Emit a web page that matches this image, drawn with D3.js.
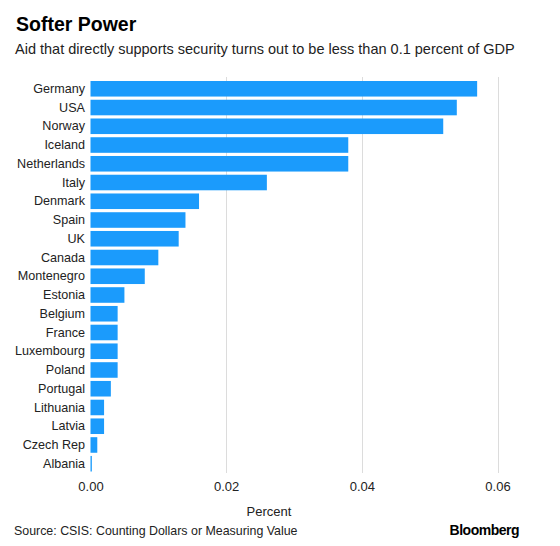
<!DOCTYPE html>
<html><head><meta charset="utf-8">
<script src="https://cdn.jsdelivr.net/npm/d3@7"></script>
<style>
html,body{margin:0;padding:0;background:#fff;}
svg text{font-family:"Liberation Sans","Helvetica",Arial,sans-serif;}
</style></head>
<body><svg id="c" width="560" height="546"></svg>
<script>
const countries = ["Germany","USA","Norway","Iceland","Netherlands","Italy","Denmark","Spain","UK","Canada","Montenegro","Estonia","Belgium","France","Luxembourg","Poland","Portugal","Lithuania","Latvia","Czech Rep","Albania"];
const values = [0.057,0.054,0.052,0.038,0.038,0.026,0.016,0.014,0.013,0.010,0.008,0.005,0.004,0.004,0.004,0.004,0.003,0.002,0.002,0.001,0.0002];
const tickValues = [0,0.02,0.04,0.06];
const tickLabels = ["0.00","0.02","0.04","0.06"];
const title = "Softer Power";
const subtitle = "Aid that directly supports security turns out to be less than 0.1 percent of GDP";
const axisTitle = "Percent";
const source = "Source: CSIS: Counting Dollars or Measuring Value";

const svg = d3.select("#c");
const x = d3.scaleLinear().domain([0,0.06]).range([90.5,497.5]);
const y = d3.scaleBand().domain(countries).range([79.5,473]).paddingInner(0.17).paddingOuter(0.08);

svg.append("text").attr("x",16).attr("y",31).attr("font-size",19.5).attr("font-weight","bold").attr("fill","#000").text(title);
svg.append("text").attr("x",15).attr("y",54).attr("font-size",14.5).attr("fill","#222").text(subtitle);

// gridlines
const gx = svg.append("g");
gx.selectAll("line").data(tickValues.slice(1)).join("line")
  .attr("x1",d=>Math.round(x(d))+0.5).attr("x2",d=>Math.round(x(d))+0.5)
  .attr("y1",77).attr("y2",473).attr("stroke","#dcdcdc").attr("stroke-width",1);

svg.append("g").selectAll("rect").data(countries).join("rect")
  .attr("x",x(0)).attr("y",d=>y(d)).attr("height",y.bandwidth())
  .attr("width",(d,i)=>Math.max(1.2,x(values[i])-x(0))).attr("fill","#1b9bfc");

const yAxis = d3.axisLeft(y).tickSize(0).tickPadding(5);
const ya = svg.append("g").attr("transform",`translate(${x(0)},0)`).call(yAxis);
ya.select(".domain").remove();
ya.selectAll("text").attr("font-size",12.6).attr("fill","#222").attr("x",-5.5).style("font-family",'"Liberation Sans",Arial,sans-serif');

const xAxis = d3.axisBottom(x).tickValues(tickValues).tickFormat((d,i)=>tickLabels[i]).tickSize(0).tickPadding(0);
const xa = svg.append("g").attr("transform",`translate(0,481.5)`).call(xAxis);
xa.select(".domain").remove();
xa.selectAll("text").attr("font-size",13).attr("fill","#222").attr("dy","0.71em").style("font-family",'"Liberation Sans",Arial,sans-serif');

svg.append("text").attr("x",269).attr("y",515.5).attr("text-anchor","middle").attr("font-size",13).attr("fill","#222").text(axisTitle);
svg.append("text").attr("x",14).attr("y",535).attr("font-size",12.4).attr("fill","#222").text(source);
svg.append("text").attr("x",519).attr("y",535).attr("text-anchor","end").attr("font-size",14).attr("font-weight","bold").attr("fill","#000").attr("letter-spacing","-0.5").text("Bloomberg");
</script></body></html>
